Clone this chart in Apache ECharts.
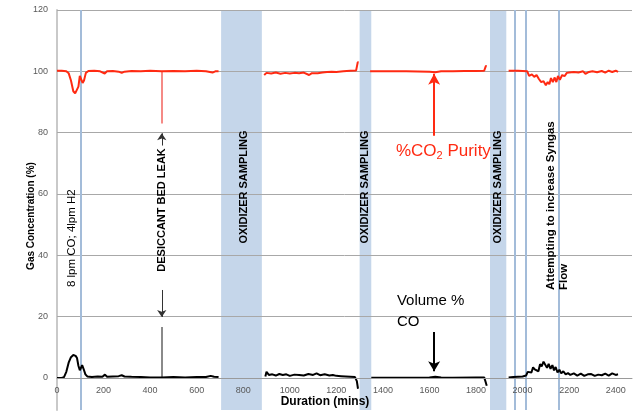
<!DOCTYPE html>
<html><head><meta charset="utf-8">
<script src="https://cdn.jsdelivr.net/npm/echarts@6/dist/echarts.min.js"></script>
<style>html,body{margin:0;padding:0;background:#fff}#c{width:641px;height:413px}</style>
</head><body><div id="c"></div>
<script>
// ---- data ----
const xTickLabels = [0,200,400,600,800,1000,1200,1400,1600,1800,2000,2200,2400];
const yTickLabels = [0,20,40,60,80,100,120];

const purityTime  = [0,20,40,50,60,70,78,86,92,98,104,110,116,124,135,160,185,205,215,240,265,278,290,320,360,400,449,500,550,600,640,668,680,694,
  700,
  890,900,920,940,960,980,1000,1020,1040,1060,1083,1095,1120,1140,1160,1180,1200,1230,1260,1285,1292,1296,
  1300,
  1345,1400,1500,1600,1625,1650,1700,1750,1800,1835,1842,1846,
  1850,
  1940,1980,2020,2028,2040,2050,2060,2070,2080,2090,2100,2108,2115,2122,2130,2138,2145,2152,2160,2170,2180,2190,2200,2220,2240,2260,2270,2285,2300,2320,2340,2355,2370,2385,2400,2410];
const purityValue = [100.2,100.2,100,99.4,97,93.5,92.8,93.2,95,98.5,98,96.2,97,99.5,100.1,100.2,100,99.3,100,100.1,99.9,99.5,99.9,100.1,100,100.2,100,100.1,100,100.2,100,99.6,100,100,
  null,
  98.8,99.5,99.3,99.6,99.2,99.5,99.3,99.5,99.4,99.6,98.8,99.4,99.4,99.6,99.8,99.9,99.8,100,100.2,100.3,103,103,
  null,
  100,100,100,99.9,99.7,100,100,100.1,100.1,100.2,101.7,101.7,
  null,
  100.2,100.2,100,98.5,99,98.2,98.8,97.5,96.5,96.8,95.5,96.5,95.8,97.8,96.5,98,96.5,98.5,97.2,98.8,98.4,99.5,99.6,99.8,99.6,100,99.2,99.8,100,99.7,100.1,99.6,100.2,99.8,100.2,99.8];

const coTime  = [0,20,30,40,50,60,70,80,86,92,98,104,108,114,122,130,150,175,195,206,215,240,265,278,290,320,360,400,450,500,550,600,640,660,666,675,694,
  700,
  895,900,910,925,940,955,970,985,1000,1020,1040,1060,1080,1100,1115,1130,1150,1170,1185,1200,1220,1240,1260,1280,1288,1293,
  1300,
  1350,1400,1500,1600,1625,1650,1700,1800,1835,1840,1846,
  1850,
  1940,1960,1980,2000,2015,2022,2030,2038,2045,2052,2060,2068,2075,2082,2090,2098,2105,2112,2120,2128,2135,2142,2150,2158,2166,2175,2185,2195,2205,2220,2235,2250,2265,2280,2295,2310,2325,2340,2355,2370,2385,2400,2410];
const coValue = [0,0,0.3,2,5,6.8,7.5,7.2,6.5,4,2.5,3.5,4.2,3,1.2,0.5,0.3,0.5,0.4,1.1,0.4,0.5,0.6,0.9,0.5,0.4,0.3,0.2,0.2,0.3,0.2,0.3,0.3,0.7,1.1,0.4,0.3,
  null,
  0.5,2.0,1.0,1.2,0.8,1.3,1,1.2,0.7,1.1,1,0.8,1.3,1,1.5,0.9,1.2,0.8,1.0,0.7,0.6,0.5,0.4,0.3,-1,-3.5,
  null,
  0.1,0.1,0.1,0.2,0.4,0.2,0.1,0.2,0.2,-1,-2.5,
  null,
  0.2,0.3,0.4,0.5,0.8,2,2.6,1.8,3.5,2.8,3.2,2.2,4.5,3.8,5.3,4.8,3.3,4.6,3,4.2,2.5,3.6,1.8,2.7,1.5,2.2,1.2,1.6,1.0,1.5,0.8,1.4,0.7,1.2,1.3,0.7,1.1,0.9,1.4,0.8,1.5,1.0,1.2];

const samplingBandStart = [705,1300,1860];
const samplingBandEnd   = [880,1350,1930];
const eventLineTimes = [100,1965,2015,2155];
const leakTime = 450;
const arrowTime = 1620;

// ---- chart ----
const FONT = "'Liberation Sans', Arial, sans-serif";
const X_MAX = 2470;
const chart = echarts.init(document.getElementById('c'));

const toPairs = (ts, vs) => ts.map((t,i) => [t, vs[i] === null ? '-' : vs[i]]);
const solid = (color, width) => ({color: color, width: width, type: 'solid'});

chart.setOption({
  animation: false,
  backgroundColor: '#fff',
  grid: [
    {left: 57, right: 9, top: 10, bottom: 35},
    {left: 57, right: 9, top: 10, bottom: 3}
  ],
  xAxis: [
    {type: 'value', gridIndex: 0, min: 0, max: X_MAX, interval: 200, z: 6,
     axisLine: {show: true, onZero: false, lineStyle: {color: '#9a9a9a', width: 1}},
     axisTick: {show: false},
     splitLine: {show: false},
     axisLabel: {fontSize: 9, color: '#595959', fontFamily: FONT, margin: 8, showMaxLabel: false,
       formatter: v => (xTickLabels.indexOf(v) >= 0 ? String(v) : '')}},
    {type: 'value', gridIndex: 1, min: 0, max: X_MAX, show: false}
  ],
  yAxis: [
    {type: 'value', gridIndex: 0, min: 0, max: 120, interval: 20, z: 2,
     axisLine: {show: false}, axisTick: {show: false},
     splitLine: {show: true, lineStyle: {color: '#a8a8a8', width: 1}},
     axisLabel: {fontSize: 9, color: '#595959', fontFamily: FONT, margin: 9,
       formatter: v => (yTickLabels.indexOf(v) >= 0 ? String(v) : '')}},
    {type: 'value', gridIndex: 1, min: 0, max: 1, z: 1,
     axisLine: {show: true, lineStyle: {color: '#c9c9c9', width: 2}},
     axisTick: {show: false}, axisLabel: {show: false}, splitLine: {show: false}}
  ],
  series: [
    {type: 'line', xAxisIndex: 1, yAxisIndex: 1, data: [], z: 1, silent: true,
     markArea: {silent: true, itemStyle: {color: '#c5d6ea'},
       data: samplingBandStart.map((s,i) => [{xAxis: s}, {xAxis: samplingBandEnd[i]}])},
     markLine: {silent: true, symbol: ['none','none'], label: {show: false},
       lineStyle: solid('#a3bcd9', 2),
       data: eventLineTimes.map(t => ({xAxis: t}))}},
    {name: '%CO2 Purity', type: 'line', xAxisIndex: 0, yAxisIndex: 0, z: 5,
     data: toPairs(purityTime, purityValue), showSymbol: false, connectNulls: false, clip: false,
     lineStyle: {color: '#ff2a12', width: 2}, itemStyle: {color: '#ff2a12'},
     markLine: {silent: true, symbol: ['none','none'], label: {show: false}, lineStyle: solid('#ff2a12', 2),
       data: [
         [{coord: [leakTime, 83], lineStyle: solid('#f58a86', 2)}, {coord: [leakTime, 100]}],
         [{coord: [arrowTime, 79], symbol: 'none', lineStyle: solid('#ff2a12', 2)}, {coord: [arrowTime, 99.2], symbol: 'arrow', symbolSize: [9, 11]}]
       ]}},
    {name: 'Volume % CO', type: 'line', xAxisIndex: 0, yAxisIndex: 0, z: 5,
     data: toPairs(coTime, coValue), showSymbol: false, connectNulls: false, clip: false,
     lineStyle: {color: '#000', width: 2}, itemStyle: {color: '#000'},
     markLine: {silent: true, symbol: ['none','none'], label: {show: false}, lineStyle: solid('#000', 1),
       data: [
         [{coord: [leakTime, 0], lineStyle: solid('#8a8a8a', 2)}, {coord: [leakTime, 16.6]}],
         [{coord: [leakTime, 28.7], lineStyle: solid('#333', 1)}, {coord: [leakTime, 19.9], symbol: 'arrow', symbolSize: [7, 7]}],
         [{coord: [leakTime, 75.8], lineStyle: solid('#333', 1)}, {coord: [leakTime, 79.8], symbol: 'arrow', symbolSize: [7, 7]}],
         [{coord: [arrowTime, 15], lineStyle: solid('#000', 2)}, {coord: [arrowTime, 2.2], symbol: 'arrow', symbolSize: [9, 10]}]
       ]}}
  ]
});

// ---- annotations positioned via the axes ----
const px = (x, y) => chart.convertToPixel({gridIndex: 0}, [x, y]);
const rot = Math.PI / 2;
function vtext(x, y, text, font, align) {
  const p = px(x, y);
  return {type: 'text', x: p[0], y: p[1], rotation: rot, z: 20, silent: true,
    style: {text: text, font: font, fill: '#000', align: align || 'center', verticalAlign: 'middle',
            textAlign: align || 'center', textVerticalAlign: 'middle', lineHeight: 13}};
}
const bandCenters = samplingBandStart.map((s,i) => (s + samplingBandEnd[i]) / 2);
const graphics = [
  vtext(64, 45.6, '8 lpm CO; 4lpm H2', '11.5px ' + FONT),
  vtext(leakTime + 3, 54.8, 'DESICCANT BED LEAK', 'bold 11px ' + FONT),
  ...bandCenters.map(c => vtext(c + 10 * (c < 1000 ? 1 : 0), 62.3, 'OXIDIZER SAMPLING', 'bold 11px ' + FONT)),
  vtext(2150, 28.7, 'Attempting to increase Syngas\nFlow', 'bold 11.5px ' + FONT, 'left')
];
const pp = px(1456, 74);
graphics.push({type: 'text', x: pp[0], y: pp[1], z: 20, silent: true,
  style: {text: '%CO{s|2} Purity', font: '17px ' + FONT, fill: '#ff2a12', align: 'left', verticalAlign: 'middle',
          textAlign: 'left', textVerticalAlign: 'middle',
          rich: {s: {font: '11px ' + FONT, fill: '#ff2a12', padding: [9, 0, 0, 0]}}}});
const vp = px(1460, 21.8);
graphics.push({type: 'text', x: vp[0], y: vp[1], z: 20, silent: true,
  style: {text: 'Volume %\nCO', font: '15px ' + FONT, fill: '#000', align: 'left', verticalAlign: 'middle',
          textAlign: 'left', textVerticalAlign: 'middle', lineHeight: 21}});
graphics.push({type: 'text', x: 31, y: 216, rotation: rot, z: 20, silent: true,
  style: {text: 'Gas Concentration (%)', font: 'bold 10px ' + FONT, fill: '#000', align: 'center', verticalAlign: 'middle',
          textAlign: 'center', textVerticalAlign: 'middle'}});
graphics.push({type: 'text', x: 325, y: 402, z: 20, silent: true,
  style: {text: 'Duration (mins)', font: 'bold 12px ' + FONT, fill: '#000', align: 'center', verticalAlign: 'middle',
          textAlign: 'center', textVerticalAlign: 'middle'}});
chart.setOption({graphic: graphics});
</script></body></html>
